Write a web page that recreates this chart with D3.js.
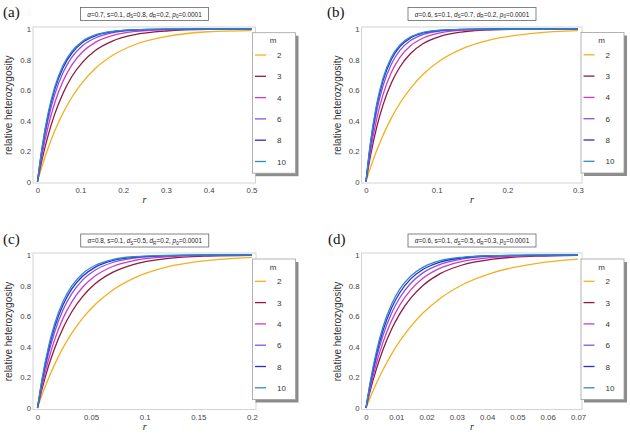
<!DOCTYPE html>
<html>
<head>
<meta charset="utf-8">
<script src="https://cdn.jsdelivr.net/npm/d3@7"></script>
<style>
	body { margin: 0; background: #fff; }
	svg { display: block; font-family: "Liberation Sans", Arial, sans-serif; }
</style>
</head>
<body>
<svg id="chart" width="630" height="434"></svg>
<script>
// legend categories and their colours
const mValues = [2, 3, 4, 6, 8, 10];
const mColors = ["#F2B01E", "#8E1B3E", "#C83DC8", "#7F55E0", "#2B2BD6", "#2E8BC4"];

const yTicks = [0, 0.2, 0.4, 0.6, 0.8, 1];
const xTicksA = [0, 0.1, 0.2, 0.3, 0.4, 0.5];
const xTicksB = [0, 0.1, 0.2, 0.3];
const xTicksC = [0, 0.05, 0.1, 0.15, 0.2];
const xTicksD = [0, 0.01, 0.02, 0.03, 0.04, 0.05, 0.06, 0.07];

// alpha, s, dS, dR, p0
const paramsA = ["0.7", "0.1", "0.8", "0.2", "0.0001"];
const paramsB = ["0.6", "0.1", "0.7", "0.2", "0.0001"];
const paramsC = ["0.8", "0.1", "0.5", "0.2", "0.0001"];
const paramsD = ["0.6", "0.1", "0.5", "0.3", "0.0001"];

// r sample points per panel
const rA = [0, 0.01, 0.025, 0.04, 0.06, 0.08, 0.105, 0.135, 0.175, 0.225, 0.3, 0.4, 0.5];
const rB = [0, 0.006, 0.015, 0.024, 0.036, 0.048, 0.063, 0.081, 0.105, 0.135, 0.18, 0.24, 0.3];
const rC = [0, 0.004, 0.01, 0.016, 0.024, 0.032, 0.042, 0.054, 0.07, 0.09, 0.12, 0.16, 0.2];
const rD = [0, 0.0014, 0.0035, 0.0056, 0.0084, 0.0112, 0.0147, 0.0189, 0.0245, 0.0315, 0.042, 0.056, 0.07];

// relative heterozygosity, one row per m (same order as mValues)
const hetA = [
	[0, .095, .221, .330, .451, .551, .650, .741, .826, .895, .950, .982, .990],
	[0, .135, .304, .440, .581, .687, .781, .859, .921, .962, .987, .997, .999],
	[0, .165, .362, .513, .660, .763, .849, .912, .957, .983, .995, .999, 1],
	[0, .189, .408, .568, .716, .814, .890, .941, .975, .991, .998, 1, 1],
	[0, .205, .437, .601, .748, .841, .911, .955, .982, .994, .999, 1, 1],
	[0, .213, .451, .617, .763, .853, .920, .961, .985, .995, .999, 1, 1]
];
const hetB = [
	[0, .086, .201, .302, .417, .513, .611, .703, .793, .868, .933, .973, .989],
	[0, .160, .353, .501, .648, .751, .839, .905, .952, .980, .995, .999, 1],
	[0, .189, .408, .568, .716, .814, .890, .941, .975, .991, .998, 1, 1],
	[0, .218, .459, .626, .771, .860, .924, .964, .987, .996, .999, 1, 1],
	[0, .237, .491, .660, .802, .885, .941, .974, .991, .998, 1, 1, 1],
	[0, .246, .506, .676, .816, .895, .948, .978, .993, .998, 1, 1, 1]
];
const hetC = [
	[0, .081, .189, .285, .396, .489, .586, .678, .770, .849, .920, .965, .985],
	[0, .117, .267, .391, .525, .629, .728, .813, .886, .939, .976, .993, .998],
	[0, .138, .309, .447, .589, .694, .789, .864, .925, .964, .988, .997, .999],
	[0, .158, .349, .497, .644, .747, .836, .902, .951, .979, .994, .999, 1],
	[0, .171, .375, .529, .676, .778, .861, .921, .963, .985, .996, .999, 1],
	[0, .181, .393, .551, .699, .798, .878, .933, .970, .989, .998, 1, 1]
];
const hetD = [
	[0, .069, .165, .250, .351, .438, .530, .622, .716, .802, .885, .944, .973],
	[0, .113, .259, .381, .513, .617, .716, .802, .878, .933, .973, .992, .998],
	[0, .131, .295, .429, .568, .674, .770, .849, .914, .957, .985, .996, .999],
	[0, .148, .330, .473, .617, .722, .814, .885, .939, .973, .992, .998, 1],
	[0, .161, .356, .505, .652, .755, .842, .907, .954, .981, .995, .999, 1],
	[0, .171, .375, .529, .676, .778, .861, .921, .963, .985, .996, .999, 1]
];

class HetPanel {
	constructor(container, data, config) {
		this.container = container;
		this.data = data;
		this.config = config;
	}
	Draw() {
		const c = this.config;
		const g = this.container.append("g");

		const x = d3.scaleLinear().domain(c.xDomain).range([c.left, c.right]);
		const y = d3.scaleLinear().domain([0, 1]).range([c.bottom, c.top]);

		// light frame with a bit of padding like the original
		const fx0 = c.left - 4.5, fx1 = c.right + 4, fy0 = c.top - 2, fy1 = c.bottom + 1.5;
		g.append("rect")
			.attr("x", fx0).attr("y", fy0)
			.attr("width", fx1 - fx0).attr("height", fy1 - fy0)
			.attr("fill", "none").attr("stroke", "#d4d4d4").attr("stroke-width", 1);

		const xAxis = g.append("g")
			.attr("transform", `translate(0,${fy1})`)
			.call(d3.axisBottom(x).tickValues(c.xTicks).tickSize(0).tickPadding(4.5).tickFormat(d => String(d)));
		const yAxis = g.append("g")
			.attr("transform", `translate(${fx0},0)`)
			.call(d3.axisLeft(y).tickValues(yTicks).tickSize(0).tickPadding(2).tickFormat(d => String(d)));
		[xAxis, yAxis].forEach(a => {
			a.select(".domain").remove();
			a.selectAll("text").attr("font-size", 7.8).attr("fill", "#444")
				.attr("font-family", "Liberation Sans, Arial, sans-serif");
		});

		// axis titles
		g.append("text")
			.attr("x", (c.left + c.right) / 2).attr("y", fy1 + 20)
			.attr("text-anchor", "middle")
			.attr("font-family", "Liberation Serif, serif").attr("font-style", "italic")
			.attr("font-size", 10).attr("fill", "#222")
			.text("r");
		g.append("text")
			.attr("transform", `translate(${c.yLabelX},${(c.top + c.bottom) / 2}) rotate(-90)`)
			.attr("text-anchor", "middle")
			.attr("font-size", 10).attr("fill", "#333")
			.text("relative heterozygosity");

		// curves
		const line = d3.line()
			.x(d => x(d[0]))
			.y(d => y(d[1]))
			.curve(d3.curveMonotoneX);
		this.data.het.forEach((vals, i) => {
			const pts = this.data.r.map((r, j) => [r, vals[j]]);
			g.append("path")
				.datum(pts)
				.attr("d", line)
				.attr("fill", "none")
				.attr("stroke", mColors[i])
				.attr("stroke-width", 1.3);
		});

		this._drawTitle(g, (c.left + c.right) / 2, c.titleY);
		this._drawLegend(g, c.legendX, c.legendY);

		g.append("text")
			.attr("x", c.tagX).attr("y", c.tagY)
			.attr("font-family", "Liberation Serif, serif")
			.attr("font-size", 15).attr("fill", "#111")
			.text(c.tag);
	}
	_drawTitle(g, cx, ty) {
		const p = this.data.params;
		const w = 128, h = 13;
		g.append("rect")
			.attr("x", cx - w / 2).attr("y", ty)
			.attr("width", w).attr("height", h)
			.attr("fill", "#fff").attr("stroke", "#666").attr("stroke-width", 0.8);
		const t = g.append("text")
			.attr("x", cx).attr("y", ty + 9)
			.attr("text-anchor", "middle")
			.attr("font-size", 6.4).attr("fill", "#222");
		const sub = (name, s, val, last) => {
			t.append("tspan").attr("font-style", "italic").text(name);
			t.append("tspan").attr("font-size", 4.6).attr("dy", 1.6).text(s);
			t.append("tspan").attr("dy", -1.6).text("=" + val + (last ? "" : ", "));
		};
		t.append("tspan").attr("font-style", "italic").text("α");
		t.append("tspan").text("=" + p[0] + ", s=" + p[1] + ", ");
		sub("d", "S", p[2], false);
		sub("d", "R", p[3], false);
		sub("p", "0", p[4], true);
	}
	_drawLegend(g, bx, by) {
		const w = 43, h = 140.5, step = 21.3;
		g.append("rect")
			.attr("x", bx + 3).attr("y", by + 3)
			.attr("width", w).attr("height", h)
			.attr("fill", "#8c8c8c");
		g.append("rect")
			.attr("x", bx).attr("y", by)
			.attr("width", w).attr("height", h)
			.attr("fill", "#fff").attr("stroke", "#a0a0a0").attr("stroke-width", 0.8);
		g.append("text")
			.attr("x", bx + 20.5).attr("y", by + 10.5)
			.attr("text-anchor", "middle")
			.attr("font-size", 8).attr("fill", "#333")
			.text("m");
		mValues.forEach((m, i) => {
			const yy = by + 22.3 + i * step;
			g.append("line")
				.attr("x1", bx + 2.5).attr("x2", bx + 13.5)
				.attr("y1", yy).attr("y2", yy)
				.attr("stroke", mColors[i]).attr("stroke-width", 1.3);
			g.append("text")
				.attr("x", bx + 24.5).attr("y", yy + 3)
				.attr("font-size", 8).attr("fill", "#333")
				.text(m);
		});
	}
}

const svg = d3.select("#chart");

const panels = [
	{ data: { r: rA, het: hetA, params: paramsA },
		config: { tag: "(a)", tagX: 3, tagY: 17, xDomain: [0, 0.5], xTicks: xTicksA,
			left: 37.5, right: 251.5, top: 29, bottom: 181.5, titleY: 7.5,
			legendX: 252.5, legendY: 32.7, yLabelX: 11.5 } },
	{ data: { r: rB, het: hetB, params: paramsB },
		config: { tag: "(b)", tagX: 327, tagY: 17, xDomain: [0, 0.3], xTicks: xTicksB,
			left: 366, right: 578, top: 29, bottom: 181.5, titleY: 7.5,
			legendX: 581, legendY: 32.5, yLabelX: 341 } },
	{ data: { r: rC, het: hetC, params: paramsC },
		config: { tag: "(c)", tagX: 3, tagY: 244, xDomain: [0, 0.2], xTicks: xTicksC,
			left: 37.5, right: 252, top: 255, bottom: 408, titleY: 234,
			legendX: 252.5, legendY: 259, yLabelX: 11.5 } },
	{ data: { r: rD, het: hetD, params: paramsD },
		config: { tag: "(d)", tagX: 328, tagY: 244, xDomain: [0, 0.07], xTicks: xTicksD,
			left: 366, right: 578, top: 255, bottom: 408, titleY: 234,
			legendX: 581, legendY: 259, yLabelX: 341 } }
];

panels.forEach(p => new HetPanel(svg, p.data, p.config).Draw());
</script>
</body>
</html>
